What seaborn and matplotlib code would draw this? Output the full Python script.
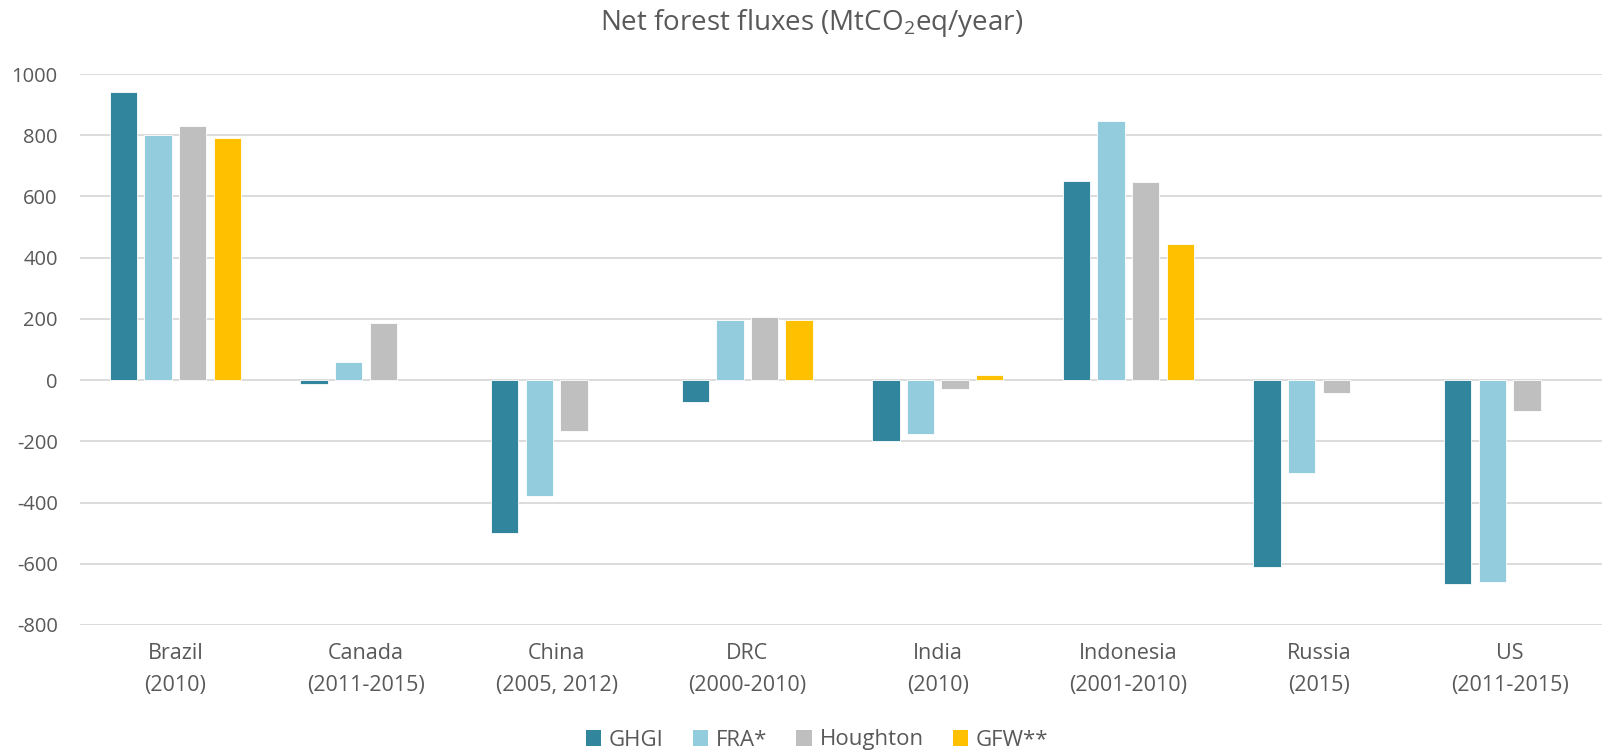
import pandas as pd
import matplotlib.pyplot as plt
import seaborn as sns
from matplotlib.patches import Patch

# Data (MtCO2eq/year)
countries = ["Brazil\n(2010)", "Canada\n(2011-2015)", "China\n(2005, 2012)", "DRC\n(2000-2010)",
             "India\n(2010)", "Indonesia\n(2001-2010)", "Russia\n(2015)", "US\n(2011-2015)"]
series = ["GHGI", "FRA*", "Houghton", "GFW**"]
ghgi = [940, -14, -498, -70, -200, 650, -610, -665]
fra = [800, 58, -380, 195, -175, 845, -303, -658]
houghton = [831, 186, -165, 205, -30, 648, -41, -102]
gfw = [792, None, None, 198, 16, 444, None, None]
colors = ["#31859C", "#93CDDD", "#BFBFBF", "#FFC000"]

rows = []
for name, vals in zip(series, [ghgi, fra, houghton, gfw]):
    for c, v in zip(countries, vals):
        if v is not None:
            rows.append({"country": c, "source": name, "value": v})
df = pd.DataFrame(rows)

sns.set_style("white")
plt.rcParams['font.family'] = ['Open Sans', 'DejaVu Sans']
plt.rcParams['mathtext.fontset'] = 'custom'
plt.rcParams['mathtext.rm'] = 'Open Sans'
plt.rcParams['axes.unicode_minus'] = False
text_col = "#595959"

W, H = 1602, 752
fig = plt.figure(figsize=(W / 100, H / 100), dpi=100)
ax = fig.add_axes([80 / W, 1 - 625 / H, (1605 - 80) / W, (625 - 74) / H])

sns.barplot(data=df, x="country", y="value", hue="source", order=countries, hue_order=series,
            palette=colors, saturation=1, errorbar=None, width=0.727, gap=0.21,
            edgecolor="white", linewidth=0.6, ax=ax, legend=False, zorder=3)

ax.set_ylim(-800, 1000)
ax.set_yticks(range(-800, 1001, 200))
ax.grid(axis="y", color="#D9D9D9", linewidth=1.3, zorder=0)
ax.grid(axis="x", visible=False)
for s in ax.spines.values():
    s.set_visible(False)
ax.set_xlabel("")
ax.set_ylabel("")
ax.tick_params(axis="y", length=0, pad=16, labelsize=14.5, labelcolor=text_col)
ax.tick_params(axis="x", length=0, pad=13, labelsize=15.5, labelcolor=text_col)
for lbl in ax.get_xticklabels():
    lbl.set_linespacing(1.66)

fig.text(812 / W, 1 - 23 / H, r"Net forest fluxes (MtCO$_\mathregular{2}$eq/year)", ha="center",
         va="center", fontsize=20, color=text_col)

handles = [Patch(facecolor=c, edgecolor="none") for c in colors]
leg = fig.legend(handles, series, loc="center", bbox_to_anchor=(817 / W, 1 - 740 / H), ncol=4,
                 frameon=False, fontsize=16, handlelength=0.7, handleheight=0.7,
                 handletextpad=0.35, columnspacing=1.3)
for t in leg.get_texts():
    t.set_color(text_col)

fig.savefig("out.png", dpi=100)
